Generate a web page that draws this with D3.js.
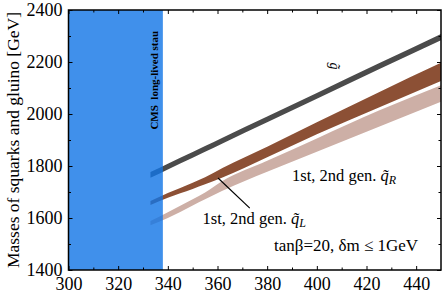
<!DOCTYPE html>
<html>
<head>
<meta charset="utf-8">
<script src="https://cdn.jsdelivr.net/npm/d3@7"></script>
<style>
body { margin: 0; background: #fff; }
text { font-family: "Liberation Serif", "Times New Roman", serif; }
</style>
</head>
<body>
<div id="chart"></div>
<script>
var w = 442;
var h = 296;

// stau mass points (GeV)
var massX      = [333, 340, 350, 355, 362, 380, 400, 425, 450];
var gluinoLow  = [1755, 1787, 1832, 1855, 1887, 1968, 2059, 2172, 2284];
var gluinoHigh = [1777, 1809, 1854, 1877, 1909, 1990, 2081, 2195, 2308];
var sqLLow     = [1650, 1678, 1712, 1730, 1756, 1834, 1922, 2025, 2127];
var sqLHigh    = [1665, 1696, 1736, 1757, 1792, 1874, 1968, 2084, 2197];
var sqRLow     = [1572, 1600, 1648, 1672, 1705, 1778, 1855, 1951, 2047];
var sqRHigh    = [1588, 1622, 1672, 1698, 1742, 1820, 1906, 2013, 2111];

var cmsLimit = 338;
var xTicks = [300, 320, 340, 360, 380, 400, 420, 440];
var yTicks = [1400, 1600, 1800, 2000, 2200, 2400];

var x = d3.scaleLinear().domain([300, 450]).range([68.5, 441]);
var y = d3.scaleLinear().domain([1400, 2400]).range([270, 10]);

var svg = d3.select('#chart')
            .append('svg')
            .attr('width', w)
            .attr('height', h);

svg.append('defs').append('clipPath').attr('id', 'clip')
   .append('rect')
   .attr('x', x(300)).attr('y', y(2400))
   .attr('width', x(450) - x(300)).attr('height', y(1400) - y(2400));

var plot = svg.append('g').attr('clip-path', 'url(#clip)');

function band(lo, hi) {
    return d3.area()
             .curve(d3.curveMonotoneX)
             .x(function(d, i) { return x(massX[i]); })
             .y0(function(d, i) { return y(lo[i]); })
             .y1(function(d, i) { return y(hi[i]); })(massX);
}

plot.append('path').attr('d', band(sqRLow, sqRHigh)).style('fill', '#cdafa6');
plot.append('path').attr('d', band(sqLLow, sqLHigh)).style('fill', '#8c5035');
plot.append('path').attr('d', band(gluinoLow, gluinoHigh)).style('fill', '#4b4b4b');

// excluded region
plot.append('rect')
    .attr('x', x(300)).attr('y', y(2400))
    .attr('width', x(cmsLimit) - x(300))
    .attr('height', y(1400) - y(2400))
    .style('fill', '#1074e6')
    .style('opacity', 0.8);

svg.append('text')
   .attr('transform', 'translate(' + (x(cmsLimit) - 5) + ',' + y(1940) + ') rotate(-90)')
   .style('font-size', '11px')
   .style('font-weight', 'bold')
   .text('CMS\u00a0\u00a0long-lived stau');

// axes, ticks inside on all four sides
function tickAxis(axis, scale, vals, minor) {
    return axis(scale).tickValues(vals).tickSizeInner(minor ? -2.5 : -4).tickSizeOuter(0);
}
var xMinor = d3.range(310, 450, 20);
var yMinor = d3.range(1500, 2400, 200);

var gx = svg.append('g').attr('transform', 'translate(0,' + y(1400) + ')')
            .call(tickAxis(d3.axisBottom, x, xTicks, false).tickFormat(d3.format('d')));
svg.append('g').attr('transform', 'translate(0,' + y(1400) + ')')
   .call(tickAxis(d3.axisBottom, x, xMinor, true).tickFormat(''));
svg.append('g').attr('transform', 'translate(0,' + y(2400) + ')')
   .call(tickAxis(d3.axisTop, x, xTicks, false).tickFormat(''));
svg.append('g').attr('transform', 'translate(0,' + y(2400) + ')')
   .call(tickAxis(d3.axisTop, x, xMinor, true).tickFormat(''));

var gy = svg.append('g').attr('transform', 'translate(' + x(300) + ',0)')
            .call(tickAxis(d3.axisLeft, y, yTicks, false).tickFormat(d3.format('d')));
svg.append('g').attr('transform', 'translate(' + x(300) + ',0)')
   .call(tickAxis(d3.axisLeft, y, yMinor, true).tickFormat(''));
svg.append('g').attr('transform', 'translate(' + x(450) + ',0)')
   .call(tickAxis(d3.axisRight, y, yTicks, false).tickFormat(''));
svg.append('g').attr('transform', 'translate(' + x(450) + ',0)')
   .call(tickAxis(d3.axisRight, y, yMinor, true).tickFormat(''));

svg.selectAll('.domain').remove();
svg.selectAll('.tick line').style('stroke', '#000').style('stroke-width', 1);
gx.selectAll('text').style('font-size', '18px').attr('dy', '0.95em').attr('y', 3);
gy.selectAll('text').style('font-size', '18px').attr('x', -6);
svg.selectAll('.tick text').style('font-family', '"Liberation Serif", serif').style('fill', '#000');

svg.append('rect')
   .attr('x', x(300)).attr('y', y(2400))
   .attr('width', x(450) - x(300)).attr('height', y(1400) - y(2400))
   .style('fill', 'none').style('stroke', '#000').style('stroke-width', 1.5);

svg.append('text')
   .attr('transform', 'translate(19,' + ((y(1400) + y(2400)) / 2) + ') rotate(-90)')
   .attr('text-anchor', 'middle')
   .style('font-size', '17.5px')
   .text('Masses of squarks and gluino [GeV]');

// labels
svg.append('text')
   .attr('transform', 'translate(' + x(405.5) + ',' + y(2185) + ') rotate(90)')
   .attr('text-anchor', 'middle')
   .style('font-size', '14px')
   .style('font-style', 'italic')
   .text('g\u0303');

var lblR = svg.append('text')
   .attr('x', x(390)).attr('y', y(1742))
   .style('font-size', '16.5px');
lblR.append('tspan').text('1st, 2nd gen. ');
lblR.append('tspan').style('font-style', 'italic').text('q\u0303');
lblR.append('tspan').style('font-style', 'italic').style('font-size', '12px').attr('dy', 3).text('R');

var lblL = svg.append('text')
   .attr('x', x(354)).attr('y', y(1577))
   .style('font-size', '16.5px');
lblL.append('tspan').text('1st, 2nd gen. ');
lblL.append('tspan').style('font-style', 'italic').text('q\u0303');
lblL.append('tspan').style('font-style', 'italic').style('font-size', '12px').attr('dy', 3).text('L');

svg.append('line')
   .attr('x1', x(360.2)).attr('y1', y(1754))
   .attr('x2', x(373)).attr('y2', y(1638))
   .style('stroke', '#000').style('stroke-width', 1.2);

svg.append('text')
   .attr('x', x(440.8)).attr('y', y(1473))
   .attr('text-anchor', 'end')
   .style('font-size', '17px')
   .text('tan\u03b2=20, \u03b4m \u2264 1GeV');
</script>
</body>
</html>
